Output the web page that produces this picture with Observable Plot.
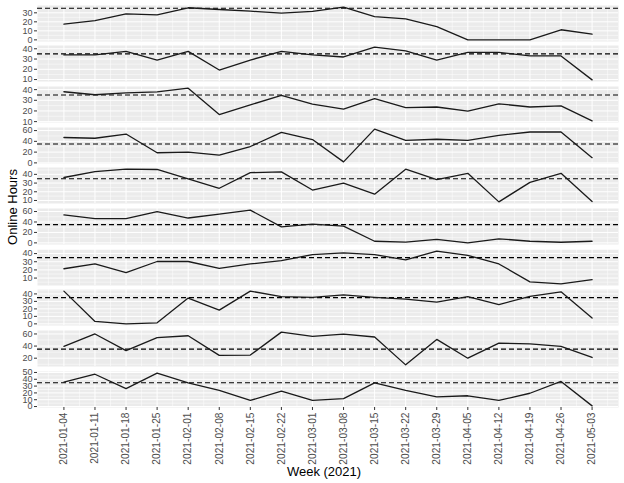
<!DOCTYPE html>
<html>
<head>
<meta charset="utf-8">
<script src="https://cdn.jsdelivr.net/npm/d3@7"></script>
<script src="https://cdn.jsdelivr.net/npm/@observablehq/plot@0.6"></script>
<style>
  html, body { margin: 0; padding: 0; background: #fff; }
  #wrap { position: relative; width: 624px; height: 483px; background: #fff; font-family: "Liberation Sans", Arial, sans-serif; overflow: hidden; }
  #wrap svg { position: absolute; left: 0; }
  .ttl { position: absolute; color: #000; font-size: 13px; white-space: nowrap; }
</style>
</head>
<body>
<div id="wrap"></div>
<script>
// ---- data ----
const week = ["2021-01-04","2021-01-11","2021-01-18","2021-01-25","2021-02-01","2021-02-08","2021-02-15","2021-02-22","2021-03-01","2021-03-08","2021-03-15","2021-03-22","2021-03-29","2021-04-05","2021-04-12","2021-04-19","2021-04-26","2021-05-03"];
const targetHours = 35;

const panel1  = [17.4, 21.3, 28.9, 27.7, 35.6, 33.7, 31.8, 29.6, 31.5, 36.3, 25.8, 23.2, 14.6, 0, 0, 0, 11.2, 6.4];
const panel2  = [34, 34, 37.5, 28.9, 37.5, 19.3, 29, 37.5, 34, 32, 41.6, 38, 28.9, 36.5, 36.5, 33, 33, 9.7];
const panel3  = [38, 35.2, 36.9, 37.8, 41.4, 16.6, 25.7, 34.5, 26.4, 21.8, 31.6, 23.1, 23.7, 19.8, 26.7, 23.7, 24.7, 10.7];
const panel4  = [47.2, 45.8, 53.6, 18.8, 20, 14.3, 30.4, 56.8, 43.3, 1.9, 62.7, 42, 43.9, 42, 51, 57.4, 57.4, 9.7];
const panel5  = [36.4, 43.2, 46, 45.6, 34.8, 24, 42, 42.8, 22, 30, 17.2, 46, 34, 41.2, 8.4, 30.8, 41.2, 8.8];
const panel6  = [53.5, 46.3, 46.3, 60, 47.6, 54.9, 62.7, 30.6, 35.9, 32, 3.1, 1.3, 6.5, 0, 7.8, 3.1, 1.2, 3.1];
const panel7  = [21.4, 27.3, 16.8, 30.3, 30.3, 21.9, 27.3, 31.5, 38.8, 40.9, 38.7, 32.4, 43, 37.8, 27.3, 5.4, 2.9, 8];
const panel8  = [43.7, 3.2, 0, 1.4, 34.5, 18.4, 43.7, 36.4, 35.4, 38.6, 35.4, 33.1, 29, 36.4, 25.8, 36.8, 42.8, 7.8];
const panel9  = [39.5, 60, 32.4, 53.8, 57, 24.6, 25.2, 63, 56.1, 59.6, 55, 9, 51, 20, 44.8, 43.6, 39.5, 21.2];
const panel10 = [35.7, 47.4, 26.3, 49, 34.8, 23.7, 9, 22.6, 9, 11.6, 34.8, 23.7, 14.2, 15.8, 9, 19.5, 36.8, 1];

const ticks1  = [0, 10, 20, 30];
const ticks2  = [10, 20, 30, 40];
const ticks3  = [10, 20, 30, 40];
const ticks4  = [0, 20, 40, 60];
const ticks5  = [10, 20, 30, 40];
const ticks6  = [0, 20, 40, 60];
const ticks7  = [10, 20, 30, 40];
const ticks8  = [0, 10, 20, 30, 40];
const ticks9  = [20, 40, 60];
const ticks10 = [0, 10, 20, 30, 40, 50];

const xTitle = "Week (2021)";
const yTitle = "Online Hours";

// ---- build ----
const panels = [panel1, panel2, panel3, panel4, panel5, panel6, panel7, panel8, panel9, panel10];
const tickSets = [ticks1, ticks2, ticks3, ticks4, ticks5, ticks6, ticks7, ticks8, ticks9, ticks10];
const dates = week.map(d => d3.utcParse("%Y-%m-%d")(d));
const t0 = +dates[0], t1 = +dates[dates.length - 1];
const xpad = (t1 - t0) * 0.05;
const xDomain = [new Date(t0 - xpad), new Date(t1 + xpad)];
const halfStep = (+dates[1] - +dates[0]) / 2;
const xMinor = [new Date(t0 - halfStep), ...dates.slice(1).map((d, j) => new Date((+d + +dates[j]) / 2)), new Date(t1 + halfStep)]
  .filter(d => d >= xDomain[0] && d <= xDomain[1]);

const fontFamily = '"Liberation Sans", Arial, sans-serif';
const wrap = document.getElementById("wrap");
const panelH = 36, top0 = 4.5, period = 40.7;

panels.forEach((values, i) => {
  const last = i === panels.length - 1;
  const ticks = tickSets[i];
  const rows = values.map((v, j) => ({date: dates[j], hours: v}));
  const ext = d3.extent([...values, targetHours]);
  const pad = (ext[1] - ext[0]) * 0.05;
  const yDomain = [ext[0] - pad, ext[1] + pad];
  const step = ticks[1] - ticks[0];
  const yMinor = [ticks[0] - step / 2, ...ticks.map(t => t + step / 2)]
    .filter(v => v >= yDomain[0] && v <= yDomain[1]);
  const marginBottom = last ? 75 : 0;
  const svg = Plot.plot({
    width: 624,
    height: panelH + marginBottom,
    marginLeft: 37,
    marginRight: 6,
    marginTop: 0,
    marginBottom,
    x: {type: "utc", domain: xDomain, axis: null},
    y: {domain: yDomain, axis: null},
    style: {fontFamily, background: "transparent", overflow: "visible"},
    marks: [
      Plot.frame({fill: "#EBEBEB", stroke: "none"}),
      Plot.gridY(yMinor, {stroke: "#fff", strokeOpacity: 1, strokeWidth: 0.5}),
      Plot.gridX(xMinor, {stroke: "#fff", strokeOpacity: 1, strokeWidth: 0.5}),
      Plot.gridY(ticks, {stroke: "#fff", strokeOpacity: 1, strokeWidth: 1}),
      Plot.gridX(dates, {stroke: "#fff", strokeOpacity: 1, strokeWidth: 1}),
      Plot.ruleY([targetHours], {stroke: "#000", strokeWidth: 1.1, strokeDasharray: "5,3"}),
      Plot.line(rows, {x: "date", y: "hours", stroke: "#1a1a1a", strokeWidth: 1.3}),
      Plot.axisY(ticks, {tickSize: 3, tickPadding: 2, fontSize: 9, fill: "#4D4D4D", stroke: "#333", label: null}),
      last ? Plot.axisX(dates, {tickSize: 3, tickPadding: 2, tickRotate: -90, tickFormat: d3.utcFormat("%Y-%m-%d"), fontSize: 10.2, fill: "#4D4D4D", stroke: "#333", label: null}) : null
    ]
  });
  svg.style.top = (top0 + period * i) + "px";
  wrap.appendChild(svg);
});

const yl = document.createElement("div");
yl.className = "ttl";
yl.textContent = yTitle;
yl.style.left = "12px";
yl.style.top = "207px";
yl.style.transform = "translate(-50%, -50%) rotate(-90deg)";
wrap.appendChild(yl);

const xl = document.createElement("div");
xl.className = "ttl";
xl.textContent = xTitle;
xl.style.left = "324px";
xl.style.top = "471px";
xl.style.transform = "translate(-50%, -50%)";
wrap.appendChild(xl);
</script>
</body>
</html>
